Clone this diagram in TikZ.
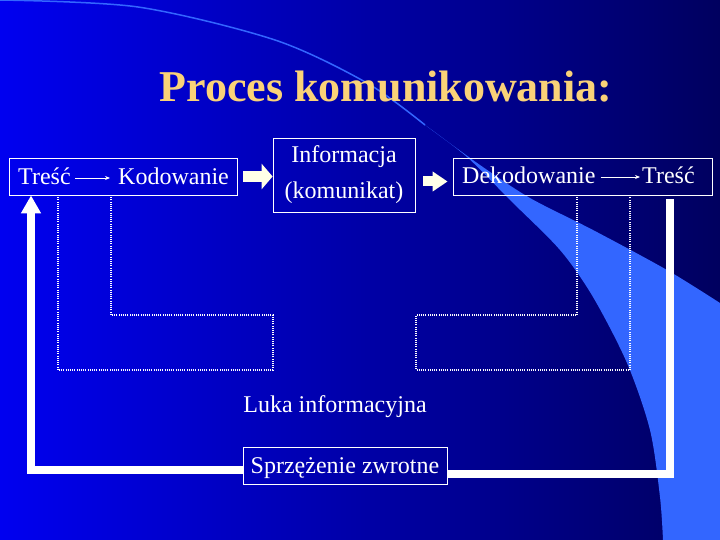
\documentclass[tikz,border=0pt]{standalone}
\usepackage{fontspec}
\setmainfont{Liberation Serif}
\usepackage{tikz}
\usetikzlibrary{arrows.meta}
\definecolor{bgLeft}{RGB}{0,0,240}
\definecolor{bgMid}{RGB}{0,0,190}
\definecolor{bgRight}{RGB}{0,0,95}
\definecolor{swoosh}{RGB}{51,102,255}
\definecolor{titleGold}{RGB}{250,210,120}
\definecolor{arrowWhite}{RGB}{255,255,232}
\tikzset{
  frameBox/.style={%
    draw=white,
    line width=0.8pt,
    rectangle,
    inner sep=0pt},
  slideText/.style={%
    text=white,
    font=\fontsize{24}{36}\selectfont,
    inner sep=0pt,
    text height=14pt,
    text depth=0pt},
  smallArrow/.style={%
    draw=white,
    line width=0.8pt,
    -{Stealth[length=5pt,width=4pt]}},
  blockArrow/.style={%
    draw=arrowWhite,
    line width=11pt,
    -{Triangle[length=11pt,width=25pt]}},
  feedbackLine/.style={%
    draw=white,
    line width=8pt},
  gapLine/.style={%
    draw=white,
    line width=1.1pt,
    dash pattern=on 1pt off 1.2pt},
  }
\begin{document}
\begin{tikzpicture}[x=1pt,y=-1pt]
  \useasboundingbox (0,0) rectangle (720,540);
  % background and swoosh
  \shade[left color=bgLeft,middle color=bgMid,right color=bgRight] (0,0) rectangle (720,540);
  \fill[swoosh] plot[smooth] coordinates {(425,125) (480,165) (530,198) (593,230) (667,270) (720,303)}
    -- (720,540) -- (663,540)
    -- plot[smooth] coordinates {(663,540) (660,497) (650,430) (627,363) (593,297) (560,250) (510,200) (467,157) (425,125)} -- cycle;
  \draw[swoosh,line width=1.5pt] plot[smooth] coordinates {(0,0) (138,7) (275,40) (367,83) (425,125)};

  \node[text=titleGold,font=\fontsize{44}{50}\selectfont\bfseries,anchor=base] (title) at (386,102) {Proces komunikowania:};

  % upper row
  \node[frameBox,minimum width=228pt,minimum height=37pt] (box1) at (123,176.5) {};
  \node[slideText,anchor=base west] (tresc1) at (18,185) {Treść};
  \node[slideText,anchor=base west] (kodowanie) at (118,185) {Kodowanie};
  \draw[smallArrow,shorten <=4pt,shorten >=8pt] (tresc1) -- (kodowanie);

  \node[frameBox,minimum width=142pt,minimum height=74pt,align=center,text=white,
    font=\fontsize{24}{36}\selectfont] (box2) at (344,175) {Informacja\\(komunikat)};

  \node[frameBox,minimum width=259pt,minimum height=37pt] (box3) at (582.5,176.5) {};
  \node[slideText,anchor=base west] (dekodowanie) at (462,184) {Dekodowanie};
  \node[slideText,anchor=base west] (tresc2) at (642,184) {Treść};
  \draw[smallArrow,shorten <=5pt,shorten >=2pt] (dekodowanie) -- (tresc2);

  \draw[blockArrow,shorten <=6pt] (box1.east) -- (box1.east -| box2.west);
  \draw[blockArrow,line width=10pt,-{Triangle[length=15pt,width=19pt]},shorten <=8pt,shorten >=5pt]
    ([yshift=-5pt]box2.east |- box3.west) -- ([yshift=-5pt]box3.west);

  % information gap
  \draw[gapLine] (58,195) -- (58,370) -- (273,370) -- (273,315) -- (111,315) -- (111,195);
  \draw[gapLine] (577,195) -- (577,315) -- (416,315) -- (416,370) -- (630,370) -- (630,195);
  \node[slideText,anchor=base] (luka) at (335,412) {Luka informacyjna};

  % feedback
  \node[frameBox,slideText,minimum width=204pt,minimum height=37pt,text height=15pt] (sprz) at (345,465.5) {Sprzężenie zwrotne};
  \coordinate (fbTop) at (670,199);
  \coordinate (fbRight) at (670,474);
  \coordinate (fbLeft) at (31,470);
  \draw[feedbackLine] (fbTop) -- (fbRight) -- (sprz.east |- fbRight);
  \draw[feedbackLine,-{Triangle[length=18pt,width=19pt]}] (sprz.west |- fbLeft) -- (fbLeft) -- (fbLeft |- box1.south);
\end{tikzpicture}
\end{document}
